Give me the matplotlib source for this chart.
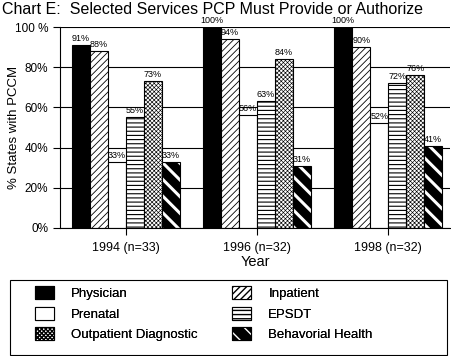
"""
Chart E: selected services a PCP must provide or authorize (grouped bars).
"""

import numpy as np
import matplotlib
matplotlib.use("Agg")
import matplotlib.pyplot as plt
from matplotlib.patches import Patch, Rectangle
from matplotlib.legend_handler import HandlerTuple

plt.rcParams["font.family"] = ["Liberation Sans", "DejaVu Sans"]

years = ["1994 (n=33)", "1996 (n=32)", "1998 (n=32)"]
services = ["Physician", "Inpatient", "Prenatal", "EPSDT",
            "Outpatient Diagnostic", "Behavorial Health"]
physician = [91, 100, 100]
inpatient = [88, 94, 90]
prenatal = [33, 56, 52]
epsdt = [55, 63, 72]
outpatient = [73, 84, 76]
behavioral = [33, 31, 41]
y_ticks = [0, 20, 40, 60, 80, 100]
y_tick_labels = ["0%", "20%", "40%", "60%", "80%", "100 %"]

series = [physician, inpatient, prenatal, epsdt, outpatient, behavioral]
# face, edge, hatch, hatch linewidth
styles = [
    ("black", "black", None, 1.0),
    ("white", "black", "/////", 0.6),
    ("white", "black", None, 1.0),
    ("white", "black", "----", 0.8),
    ("white", "black", "xxxxxxxx", 0.45),
    ("black", "white", "\\\\", 2.2),
]

W, H = 452, 356
fig = plt.figure(figsize=(W / 100, H / 100), dpi=100)
ax = fig.add_axes([60 / W, 1 - 228 / H, 390 / W, 201 / H])

x = np.arange(len(years))
width = 0.137
handles = []
for i, (vals, (fc, ec, hatch, hlw)) in enumerate(zip(series, styles)):
    pos = x + (i - 2.5) * width
    with plt.rc_context({"hatch.linewidth": hlw, "hatch.color": ec}):
        ax.bar(pos, vals, width, color=fc, edgecolor=ec, hatch=hatch,
               linewidth=0.8 if ec == "black" else 0, zorder=2)
        h = Patch(facecolor=fc, edgecolor=ec, hatch=hatch,
                  linewidth=0.8 if ec == "black" else 0)
    if ec != "black":
        # black outline on top of white-hatched bars
        ax.bar(pos, vals, width, fill=False, edgecolor="black",
               linewidth=0.8, zorder=3)
        h = (h, Patch(fill=False, edgecolor="black", linewidth=0.8))
    handles.append(h)
    for p, v in zip(pos, vals):
        ax.text(p, v + 1, f"{v}%", ha="center", va="bottom", fontsize=6.5)

ax.set_xlim(-0.5, 2.47)
ax.set_ylim(0, 100)
ax.set_xticks(x)
ax.set_xticklabels(years, fontsize=9)
ax.set_yticks(y_ticks)
ax.set_yticklabels(y_tick_labels, fontsize=8.5)
ax.tick_params(axis="both", direction="out", length=5, width=0.8,
               color="black")
ax.tick_params(axis="x", pad=5)
ax.yaxis.grid(True, color="black", linewidth=0.8)
ax.set_axisbelow(True)
for s in ["top", "right"]:
    ax.spines[s].set_visible(False)
ax.set_xlabel("Year", fontsize=10.5, labelpad=1)
ax.set_ylabel("% States with PCCM", fontsize=9.5)
ax.yaxis.set_label_coords(-0.103, 0.5)

fig.text(0.005, 0.995, "Chart E:  Selected Services PCP Must Provide or Authorize",
         ha="left", va="top", fontsize=11.5)

# legend: frame drawn separately, two single-column legends inside it
fig.add_artist(Rectangle((10 / W, 1 - 355 / H), 437 / W, 75 / H,
                         transform=fig.transFigure, fill=False,
                         edgecolor="black", linewidth=0.8))
leg_kw = dict(loc="upper left", fontsize=9.5, frameon=False,
              handlelength=1.45, handleheight=1.15, handletextpad=1.3,
              borderpad=0, borderaxespad=0, labelspacing=0.5,
              handler_map={tuple: HandlerTuple(ndivide=1)})
for col, x0 in [([0, 2, 4], 35), ([1, 3, 5], 232)]:
    fig.add_artist(fig.legend([handles[i] for i in col],
                              [services[i] for i in col],
                              bbox_to_anchor=(x0 / W, 1 - 286 / H), **leg_kw))

fig.savefig("out.png", dpi=100)
